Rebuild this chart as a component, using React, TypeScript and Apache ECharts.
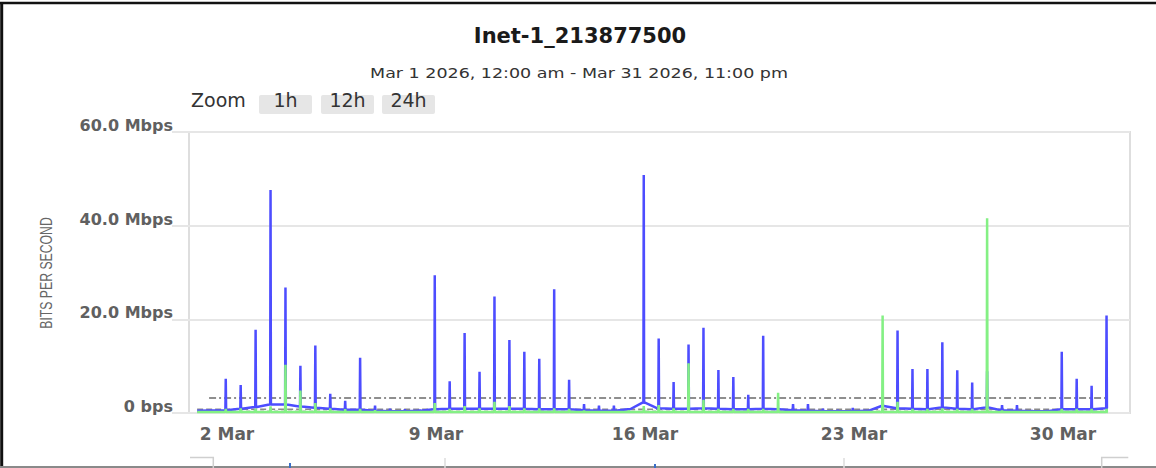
import React, { useEffect, useRef } from "react";
import * as echarts from "echarts";

// ---- Data (Mbps). Samples are hourly; traffic spikes every 12 h starting Mar 1, 11 pm ----
const TITLE = "Inet-1_213877500";
const SUBTITLE = "Mar 1 2026, 12:00 am - Mar 31 2026, 11:00 pm";
const zoomButtons = ["1h", "12h", "24h"];
const yTicks = [0, 20, 40, 60];
const xTickDays = [2, 9, 16, 23, 30];

// first spike: day 1 + 23h, step 12h
const firstSpikeDay = 1 + 23 / 24;
const spikeStepDays = 0.5;
const hour = 1 / 24;
const spikeHalfWidth = 0.3 * hour;

const inboundPeaks = [
  7.3, 6.0, 17.8, 47.6, 26.8, 10.1, 14.4, 4.1, 2.6, 11.8,
  1.6, 0.9, 0.8, 0.7, 29.4, 6.8, 17.1, 8.8, 24.9, 15.6,
  13.1, 11.6, 26.4, 7.1, 1.9, 1.6, 1.6, 0.8, 50.8, 15.9,
  6.6, 14.6, 18.2, 9.2, 7.7, 3.9, 16.5, 1.0, 1.9, 1.9,
  0.9, 0.7, 1.1, 0.5, 2.0, 17.6, 9.4, 9.4, 15.1, 9.1,
  6.5, 8.9, 1.7, 1.7, 0.6, 0.6, 13.1, 7.3, 5.8, 20.8,
];
const inboundBase = [
  0.6, 0.9, 1.3, 1.8, 1.8, 1.4, 1.1, 0.9, 0.7, 0.7,
  0.5, 0.4, 0.4, 0.5, 0.8, 0.9, 0.9, 0.9, 0.9, 0.9,
  0.9, 0.8, 0.8, 0.8, 0.6, 0.5, 0.5, 0.8, 2.2, 1.0,
  0.9, 0.9, 1.0, 0.9, 0.8, 0.8, 0.9, 0.8, 0.6, 0.5,
  0.4, 0.4, 0.4, 0.5, 1.5, 1.0, 0.9, 0.8, 1.2, 0.9,
  0.8, 1.2, 0.6, 0.5, 0.4, 0.4, 0.8, 0.8, 0.8, 1.0,
];
const outboundPeaks = [
  0.9, 1.0, 0.9, 1.4, 10.3, 4.8, 2.1, 1.0, 0.8, 0.9,
  0.6, 0.4, 0.4, 0.4, 2.1, 0.9, 1.5, 1.0, 2.4, 1.5,
  1.0, 1.0, 1.0, 0.9, 0.5, 0.4, 0.4, 0.5, 1.5, 1.7,
  1.0, 10.6, 2.8, 0.9, 0.9, 0.9, 0.9, 4.3, 0.4, 0.4,
  0.4, 0.4, 0.4, 0.4, 20.8, 2.4, 0.9, 0.9, 1.0, 0.9,
  0.9, 41.6, 0.5, 0.4, 0.4, 0.4, 0.9, 0.9, 0.9, 0.9,
];
const outboundBase = 0.2;
const inboundStart = 0.5;
const percentile95 = 3.2;
const percentileRange = [1.4, 31.5];
const avgInbound = 0.8;
const avgOutbound = 0.3;

function spikeSeries(peaks: number[], base: number[] | number, start: number) {
  const pts: number[][] = [[1, start]];
  peaks.forEach((p, k) => {
    const t = firstSpikeDay + k * spikeStepDays;
    const b = Array.isArray(base) ? base[k] : base;
    pts.push([t - hour, b], [t - spikeHalfWidth, b], [t, p], [t + spikeHalfWidth, b], [t + hour, b]);
  });
  return pts;
}

const lastDay = firstSpikeDay + (inboundPeaks.length - 1) * spikeStepDays + hour;

export default function App() {
  const ref = useRef<HTMLDivElement>(null);
  useEffect(() => {
    if (!ref.current) return;
    const chart = echarts.init(ref.current, null, { renderer: "svg" });
    const labelColor = "#606060";
    const font = '"DejaVu Sans", Verdana, sans-serif';
    const btnX = [259, 321, 382];
    const graphic: any[] = [
      // frame
      { type: "line", shape: { x1: 0, y1: 3, x2: 1156, y2: 3 }, style: { stroke: "#111", lineWidth: 2.5 } },
      { type: "line", shape: { x1: 1.7, y1: 2, x2: 1.7, y2: 468 }, style: { stroke: "#111", lineWidth: 3 } },
      { type: "line", shape: { x1: 0, y1: 467, x2: 1156, y2: 467 }, style: { stroke: "#8a8a8a", lineWidth: 2 } },
      // title
      { type: "text", x: 580, y: 35.5, style: { text: TITLE, font: `bold 21px ${font}`, fill: "#1a1a1a", textAlign: "center", textVerticalAlign: "middle" } },
      { type: "text", x: 579, y: 73, scaleX: 1.25, style: { text: SUBTITLE, font: `14px ${font}`, fill: "#333", textAlign: "center", textVerticalAlign: "middle" } },
      { type: "text", x: 191, y: 100, style: { text: "Zoom", font: `19px ${font}`, fill: "#333", textAlign: "left", textVerticalAlign: "middle" } },
      // y axis name
      { type: "text", x: 46, y: 273, rotation: Math.PI / 2, scaleX: 0.72, style: { text: "BITS PER SECOND", font: '17px "Liberation Sans", Arial, sans-serif', fill: "#666", textAlign: "center", textVerticalAlign: "middle" } },
      // navigator remnants
      { type: "polyline", shape: { points: [[190, 457.5], [213.3, 457.5], [213.3, 468]] }, style: { stroke: "#cfcfcf", lineWidth: 1.5, fill: null } },
      { type: "line", shape: { x1: 445, y1: 458, x2: 445, y2: 468 }, style: { stroke: "#dcdcdc", lineWidth: 1.5 } },
      { type: "line", shape: { x1: 844, y1: 458, x2: 844, y2: 468 }, style: { stroke: "#dcdcdc", lineWidth: 1.5 } },
      { type: "polyline", shape: { points: [[1101.7, 468], [1101.7, 457.5], [1128.3, 457.5]] }, style: { stroke: "#cfcfcf", lineWidth: 1.5, fill: null } },
      { type: "line", shape: { x1: 290, y1: 463, x2: 290, y2: 468 }, style: { stroke: "#3a6fc8", lineWidth: 2 } },
      { type: "line", shape: { x1: 655, y1: 464, x2: 655, y2: 468 }, style: { stroke: "#3a6fc8", lineWidth: 2 } },
    ];
    zoomButtons.forEach((b, i) => {
      graphic.push({ type: "rect", shape: { x: btnX[i], y: 95, width: 53, height: 19, r: 2 }, style: { fill: "#e6e6e6" } });
      graphic.push({ type: "text", x: btnX[i] + 26.5, y: 100, style: { text: b, font: `19px ${font}`, fill: "#333", textAlign: "center", textVerticalAlign: "middle" } });
    });

    const xMin = 0.7273;
    const xMax = 32.244;

    chart.setOption({
      animation: false,
      backgroundColor: "#ffffff",
      grid: { left: 189, top: 132, width: 941, height: 281, show: true, borderColor: "#dedede", borderWidth: 2, backgroundColor: "transparent" },
      xAxis: {
        type: "value",
        min: xMin,
        max: xMax,
        axisLine: { show: false },
        axisTick: { show: false },
        splitLine: { show: false },
        axisLabel: {
          customValues: xTickDays,
          formatter: (v: number) => `${Math.round(v)} Mar`,
          color: labelColor,
          fontFamily: font,
          fontWeight: "bold",
          fontSize: 17,
          margin: 12,
        },
      },
      yAxis: {
        type: "value",
        min: yTicks[0],
        max: yTicks[yTicks.length - 1],
        interval: 20,
        axisLine: { show: false },
        axisTick: { show: true, length: 17, lineStyle: { color: "#e6e6e6", width: 2 } },
        splitLine: { lineStyle: { color: "#e6e6e6", width: 2 } },
        axisLabel: {
          formatter: (v: number) => (v === 0 ? "0 bps" : `${v.toFixed(1)} Mbps`),
          color: labelColor,
          fontFamily: font,
          fontWeight: "bold",
          fontSize: 16,
          margin: 16,
          verticalAlign: "bottom",
          lineHeight: 13,
        },
      },
      graphic,
      series: [
        {
          type: "line",
          name: "Avg Out",
          data: [[1, avgOutbound], [lastDay, avgOutbound]],
          showSymbol: false,
          silent: true,
          z: 1,
          lineStyle: { color: "#555", width: 1.5, type: [4, 3] },
        },
        {
          type: "line",
          name: "Avg In",
          data: [[1, avgInbound], [lastDay, avgInbound]],
          showSymbol: false,
          silent: true,
          z: 1,
          lineStyle: { color: "#8a8a8a", width: 1.5, type: [6, 3] },
        },
        {
          type: "line",
          name: "95th Percentile",
          data: [[percentileRange[0], percentile95], [percentileRange[1], percentile95]],
          showSymbol: false,
          silent: true,
          z: 1,
          lineStyle: { color: "#6a6a6a", width: 1.5, type: [7, 3, 2, 3] },
        },
        {
          type: "line",
          name: "Inbound",
          data: spikeSeries(inboundPeaks, inboundBase, inboundStart),
          showSymbol: false,
          silent: true,
          z: 3,
          lineStyle: { color: "#4d4dff", width: 2.5, join: "bevel", cap: "butt" },
          itemStyle: { color: "#4d4dff" },
        },
        {
          type: "line",
          name: "Outbound",
          data: spikeSeries(outboundPeaks, outboundBase, outboundBase),
          showSymbol: false,
          silent: true,
          z: 4,
          lineStyle: { color: "#84f084", width: 2.5, join: "bevel", cap: "butt" },
          itemStyle: { color: "#84f084" },
        },
      ],
    });
    return () => chart.dispose();
  }, []);
  return <div ref={ref} style={{ position: "fixed", left: 0, top: 0, width: 1156, height: 468, background: "#fff" }} />;
}
